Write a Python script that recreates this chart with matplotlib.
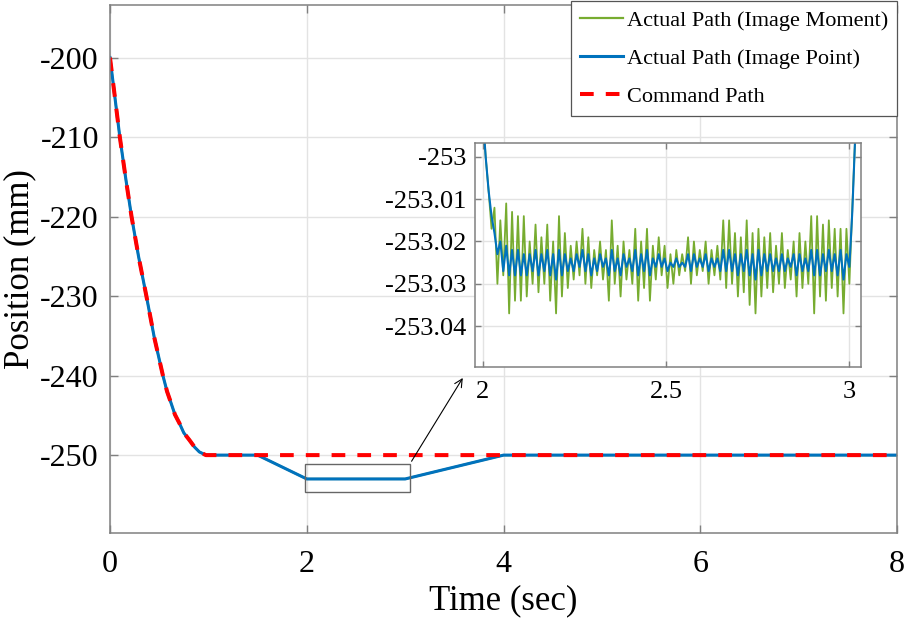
import numpy as np
import matplotlib
matplotlib.use("Agg")
from matplotlib import pyplot as plt
from matplotlib.patches import Rectangle

plt.rcParams['font.family'] = ['Liberation Serif', 'DejaVu Serif']

# command path (descent then hold)
t_cmd = [0, 0.05, 0.10, 0.16, 0.219, 0.29, 0.37, 0.45, 0.538, 0.58, 0.622, 0.66, 0.706,
         0.75, 0.807, 0.86, 0.908, 0.975, 8.0]
pos_cmd = [-200, -205, -210, -215.2, -220, -225, -230, -235.2, -240, -242.0, -243.5, -244.9, -246,
           -247.2, -248.1, -249.0, -249.6, -250, -250]

# actual path at full scale: same descent, then dip to -253 and back
t_dip = [1.5, 2.0, 3.0, 4.0, 8.0]
pos_dip = [-250, -253, -253, -250, -250]
t_act = t_cmd[:-1] + t_dip
pos_act = pos_cmd[:-1] + pos_dip

# zoomed window (2 s .. 3 s), sample step and offsets from -253 mm in micrometres
t0_zoom = 2.0
dt_zoom = 0.008
moment_um = [10, 0, -8, -17, -12, -30, -15, -28, -11, -37, -13, -34, -14, -34, -14, -33,
             -20, -30, -16, -32, -19, -30, -16, -34, -20, -37, -14, -33, -18, -31, -21, -29,
             -20, -28, -17, -30, -19, -31, -22, -28, -20, -29, -22, -34, -15, -30, -21, -33,
             -20, -29, -22, -30, -17, -34, -20, -31, -17, -34, -21, -29, -19, -28, -21, -31,
             -23, -30, -22, -28, -23, -27, -19, -30, -20, -28, -22, -27, -20, -30, -22, -28,
             -21, -29, -15, -31, -15, -30, -18, -33, -19, -32, -15, -35, -18, -37, -17, -33,
             -19, -31, -18, -32, -21, -30, -18, -31, -22, -29, -20, -33, -18, -31, -20, -30,
             -14, -37, -14, -33, -16, -34, -15, -31, -17, -33, -17, -37, -17, -30, -12, 5]
point_um = [10, 0, -8, -14, -18, -23, -20, -27, -21, -28, -22, -28, -22, -28, -23, -28,
            -23, -27, -22, -28, -23, -27, -22, -28, -23, -29, -22, -28, -23, -27, -24, -27,
            -23, -26, -22, -27, -23, -28, -24, -27, -23, -26, -24, -28, -22, -27, -24, -28,
            -23, -26, -24, -27, -22, -28, -23, -27, -22, -28, -24, -26, -23, -26, -24, -27,
            -25, -26, -24, -26, -25, -26, -23, -27, -23, -26, -24, -26, -23, -27, -24, -26,
            -24, -27, -22, -27, -22, -27, -23, -28, -23, -27, -22, -28, -23, -29, -22, -28,
            -23, -27, -23, -27, -24, -27, -23, -27, -24, -26, -23, -28, -23, -27, -24, -27,
            -22, -28, -22, -28, -23, -27, -22, -27, -23, -28, -22, -29, -23, -26, -13, 5]

# zoom box drawn on the main axes and arrow end
box_t = (1.978, 3.05)
box_pos = (-254.65, -251.17)
arrow_tip = (3.6, -240.0)

green = '#77AC30'
blue = '#0072BD'
grid_c = '#e3e3e3'
spine_c = '#808080'

fig = plt.figure(figsize=(9.09, 6.24), dpi=100)
ax = fig.add_axes([0.121, 0.1458, 0.866, 0.846])

ax.plot(t_act, pos_act, color=green, lw=1.6, label='Actual Path (Image Moment)')
ax.plot(t_act, pos_act, color=blue, lw=2.2, label='Actual Path (Image Point)')
ax.plot(t_cmd, pos_cmd, color='red', lw=2.9, dashes=(3.4, 3.0), label='Command Path')

ax.set_xlim(0, 8)
ax.set_ylim(-259.8, -193.4)
ax.set_xticks([0, 2, 4, 6, 8])
ax.set_yticks([-250, -240, -230, -220, -210, -200])
ax.set_yticklabels(['-250', '-240', '-230', '-220', '-210', '-200'])
ax.grid(True, color=grid_c, lw=1)
ax.set_axisbelow(True)
ax.tick_params(direction='in', top=True, right=True, length=6, color=spine_c,
               labelsize=23, width=1)
ax.tick_params(axis='x', pad=12)
ax.tick_params(axis='y', pad=8)
for s in ax.spines.values():
    s.set_color(spine_c)
    s.set_linewidth(1.1)
ax.set_xlabel('Time (sec)', fontsize=25, labelpad=4)
ax.set_ylabel('Position (mm)', fontsize=25, labelpad=3)

leg = ax.legend(loc='upper right', bbox_to_anchor=(1.0, 1.007), borderaxespad=0.0,
                fontsize=16, fancybox=False, framealpha=1, edgecolor='#555555',
                handlelength=1.9, handletextpad=0.2, borderpad=0.4, labelspacing=0.78)
leg.get_frame().set_linewidth(0.9)

ax.add_patch(Rectangle((box_t[0], box_pos[0]), box_t[1] - box_t[0], box_pos[1] - box_pos[0],
                       fill=False, edgecolor='#666666', lw=1.0, zorder=5))
ax.annotate('', xy=arrow_tip, xytext=(box_t[1], box_pos[1] + 0.1),
            arrowprops=dict(arrowstyle='->', color='black', lw=0.8, mutation_scale=14))

# inset
t_zoom = t0_zoom + dt_zoom * np.arange(len(moment_um))
ins = fig.add_axes([0.5226, 0.4123, 0.4247, 0.358])
ins.plot(t_zoom, -253 + np.array(moment_um) / 1000.0, color=green, lw=1.3)
ins.plot(t_zoom, -253 + np.array(point_um) / 1000.0, color=blue, lw=1.5)
ins.set_xlim(1.979, 3.032)
ins.set_ylim(-253.0496, -252.9968)
ins.set_xticks([2, 2.5, 3])
ins.set_xticklabels(['2', '2.5', '3'])
ins.set_yticks([-253.04, -253.03, -253.02, -253.01, -253])
ins.set_yticklabels(['-253.04', '-253.03', '-253.02', '-253.01', '-253'])
ins.grid(True, color=grid_c, lw=1)
ins.set_axisbelow(True)
ins.tick_params(direction='in', top=True, right=True, length=4, color=spine_c,
                labelsize=19, width=1)
ins.tick_params(axis='x', pad=10)
ins.tick_params(axis='y', pad=6)
for s in ins.spines.values():
    s.set_color(spine_c)
    s.set_linewidth(1.1)

fig.savefig('out.png', dpi=100)
